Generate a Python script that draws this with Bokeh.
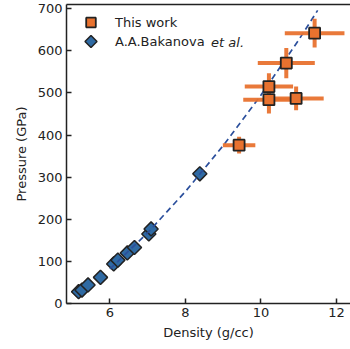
import numpy as np
from bokeh.plotting import figure
from bokeh.models import (ColumnDataSource, Range1d, FixedTicker, LinearAxis,
                          Legend, LegendItem, Label)
from bokeh.embed import file_html
from bokeh.resources import INLINE

# ---- data ----
this_density = [9.42, 10.21, 10.21, 10.93, 10.67, 11.42]
this_pressure = [376, 515, 484, 487, 571, 642]
this_density_err = [0.43, 0.64, 0.68, 0.73, 0.755, 0.79]
this_pressure_err = [20, 32, 33, 28, 36, 34]

bak_density = [5.17, 5.26, 5.42, 5.75, 6.10, 6.21, 6.46, 6.65, 7.03, 7.09, 8.38]
bak_pressure = [28, 32, 44, 62, 94, 103, 120, 133, 165, 177, 308]

fit_density = [6.0, 7.0, 8.0, 9.0, 10.0, 11.0, 11.5]
fit_pressure = [82, 168, 266, 375, 495, 626, 696]

x_ticks = [6, 8, 10, 12]
y_ticks = [0, 100, 200, 300, 400, 500, 600, 700]

ORANGE = "#e8722f"
BLUE = "#2f6aa3"
LINE_BLUE = "#2b4f9c"
DARK = "#222222"
FONT = "DejaVu Sans"

p = figure(width=350, height=349, output_backend="svg", toolbar_location=None,
           x_range=Range1d(4.85, 12.37), y_range=Range1d(0, 710),
           min_border_left=66, min_border_right=0, min_border_top=4,
           min_border_bottom=46, x_axis_label="Density (g/cc)",
           y_axis_label="Pressure (GPa)")
p.outline_line_color = None
p.xgrid.visible = False
p.ygrid.visible = False
p.background_fill_color = "white"
p.border_fill_color = "white"

for ax, ticks in ((p.xaxis[0], x_ticks), (p.yaxis[0], y_ticks)):
    ax.ticker = FixedTicker(ticks=ticks)
    ax.major_tick_in = 5
    ax.major_tick_out = 0
    ax.minor_tick_in = 0
    ax.minor_tick_out = 0
    ax.axis_line_width = 1.5
    ax.axis_line_color = DARK
    ax.major_tick_line_width = 1.5
    ax.major_tick_line_color = DARK
    ax.major_label_text_font = FONT
    ax.major_label_text_font_size = "13px"
    ax.major_label_text_color = DARK
    ax.axis_label_text_font = FONT
    ax.axis_label_text_font_size = "13px"
    ax.axis_label_text_font_style = "normal"
    ax.axis_label_text_color = DARK
p.xaxis[0].major_label_standoff = 4
p.xaxis[0].axis_label_standoff = 5
p.yaxis[0].major_label_standoff = 4
p.yaxis[0].axis_label_standoff = 6

top = LinearAxis(ticker=FixedTicker(ticks=[]), major_label_text_font_size="0px",
                 major_tick_out=0, major_tick_in=0, minor_tick_in=0, minor_tick_out=0,
                 major_label_standoff=0, axis_line_width=1.5, axis_line_color=DARK)
p.add_layout(top, "above")

# Bakanova diamonds
bak_src = ColumnDataSource(dict(x=bak_density, y=bak_pressure))
r_bak = p.scatter("x", "y", source=bak_src, marker="square", angle=np.pi / 4,
                  size=10, fill_color=BLUE, line_color=DARK, line_width=1.5)

# legend key for the diamonds: zero-size in the plot, box-sized in the legend
if hasattr(p, "ngon"):
    r_bak_key = p.ngon("x", "y", source=bak_src, radius=0, n=4, fill_color=BLUE,
                       line_color=DARK, line_width=1.5, line_alpha=1)
else:
    r_bak_key = p.scatter("x", "y", source=bak_src, marker="diamond", size=0,
                          fill_color=BLUE, line_color=DARK, line_width=1.5)

# fit line
p.line(fit_density, fit_pressure, line_color=LINE_BLUE, line_width=1.7,
       line_dash="6 4")

# this work with error bars
d = np.array(this_density)
pr = np.array(this_pressure)
de = np.array(this_density_err)
pe = np.array(this_pressure_err)
err_src = ColumnDataSource(dict(x=d, y=pr, xl=d - de, xr=d + de, yl=pr - pe, yh=pr + pe))
p.segment("xl", "y", "xr", "y", source=err_src, line_color=ORANGE, line_width=4,
          line_alpha=0.95)
p.segment("x", "yl", "x", "yh", source=err_src, line_color=ORANGE, line_width=4,
          line_alpha=0.95)
r_this = p.scatter("x", "y", source=err_src, marker="square", size=11,
                   fill_color=ORANGE, line_color=DARK, line_width=1.8)

leg_kw = dict(margin=0, padding=0, glyph_width=39, label_standoff=5,
              label_text_font=FONT, label_text_font_size="13px",
              label_text_color=DARK, border_line_color=None,
              background_fill_alpha=0)
legend1 = Legend(items=[LegendItem(label="This work", renderers=[r_this])],
                 location=(5, 269), glyph_height=24, **leg_kw)
legend2 = Legend(items=[LegendItem(label="A.A.Bakanova", renderers=[r_bak_key])],
                 location=(5, 247), glyph_height=30, **leg_kw)
p.add_layout(legend1)
p.add_layout(legend2)

etal = Label(x=144.6, y=261.5, x_units="screen", y_units="screen",
             text="et al.", text_font=FONT, text_font_size="13px",
             text_font_style="italic", text_color=DARK, text_baseline="middle")
p.add_layout(etal)

open("out.html", "w").write(file_html(p, INLINE))
